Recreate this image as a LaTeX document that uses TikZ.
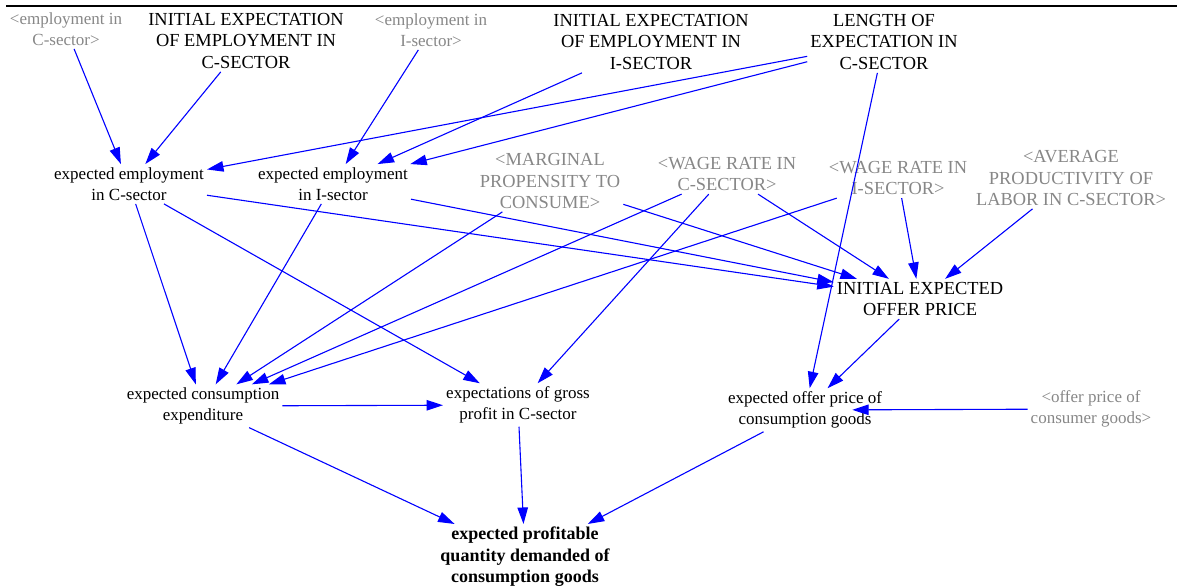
\documentclass[tikz,border=0pt]{standalone}
\usepackage{fontspec}
\setmainfont{Liberation Serif}
\usetikzlibrary{arrows.meta}
\definecolor{ghost}{RGB}{135,135,135}
\definecolor{linkblue}{RGB}{0,0,255}
\begin{document}
\begin{tikzpicture}[x=1pt, y=-1pt, >={Triangle[length=16.5pt,width=10.5pt]},
	var/.style={align=center, font=\rmfamily\fontsize{17}{21.5}\selectfont, inner sep=3pt},
	caps/.style={var, font=\rmfamily\fontsize{18.4}{21.5}\selectfont},
	shadow/.style={var, text=ghost},
	shadowcaps/.style={caps, text=ghost},
	link/.style={->, linkblue, line width=1.1pt}]
	\useasboundingbox (0,0) rectangle (1177,588);
	\draw[line width=2.5pt] (6,6) -- (1177,6);
	% top row
	\node[shadow] (empC) at (66,29) {<employment in\\C-sector>};
	\node[caps] (initC) at (246,41) {INITIAL EXPECTATION\\OF EMPLOYMENT IN\\C-SECTOR};
	\node[shadow] (empI) at (431,30) {<employment in\\I-sector>};
	\node[caps] (initI) at (651,42) {INITIAL EXPECTATION\\OF EMPLOYMENT IN\\I-SECTOR};
	\node[caps] (lenC) at (884,42) {LENGTH OF\\EXPECTATION IN\\C-SECTOR};
	% middle row
	\node[var] (expEC) at (129,184) {expected employment\\in C-sector};
	\node[var] (expEI) at (333,184) {expected employment\\in I-sector};
	\node[shadowcaps] (mpc) at (550,181) {<MARGINAL\\PROPENSITY TO\\CONSUME>};
	\node[shadowcaps] (wrC) at (727,174) {<WAGE RATE IN\\C-SECTOR>};
	\node[shadowcaps] (wrI) at (898,178) {<WAGE RATE IN\\I-SECTOR>};
	\node[shadowcaps] (apl) at (1071,178) {<AVERAGE\\PRODUCTIVITY OF\\LABOR IN C-SECTOR>};
	\node[caps] (iop) at (920,299) {INITIAL EXPECTED\\OFFER PRICE};
	% lower rows
	\node[var] (ece) at (203,406) {expected consumption\\expenditure};
	\node[var] (egp) at (518,405) {expectations of gross\\profit in C-sector};
	\node[var] (eop) at (805,410) {expected offer price of\\consumption goods};
	\node[shadow] (opc) at (1091,409) {<offer price of\\consumer goods>};
	\node[var, font=\rmfamily\fontsize{18}{21.5}\selectfont\bfseries] (epq) at (525,557) {expected profitable\\quantity demanded of\\consumption goods};
	% links
	\draw[link] (empC) -- (expEC);
	\draw[link] (initC) -- (expEC);
	\draw[link] (lenC) -- (expEC);
	\draw[link] (empI) -- (expEI);
	\draw[link] (initI) -- (expEI);
	\draw[link] (lenC) -- (expEI);
	\draw[link] (lenC) -- (eop);
	\draw[link] (expEC) -- (ece);
	\draw[link] (expEC) -- (egp);
	\draw[link] (expEC) -- (iop);
	\draw[link] (expEI) -- (ece);
	\draw[link] (expEI) -- (iop);
	\draw[link] (mpc) -- (ece);
	\draw[link] (mpc) -- (iop);
	\draw[link] (wrC) -- (ece);
	\draw[link] (wrC) -- (egp);
	\draw[link] (wrC) -- (iop);
	\draw[link] (wrI) -- (ece);
	\draw[link] (wrI) -- (iop);
	\draw[link] (apl) -- (iop);
	\draw[link] (iop) -- (eop);
	\draw[link, shorten >=-33pt] (opc) -- (eop);
	\draw[link] (ece) -- (egp);
	\draw[link] (ece) -- (epq);
	\draw[link] (egp) -- (epq);
	\draw[link] (eop) -- (epq);
\end{tikzpicture}
\end{document}
